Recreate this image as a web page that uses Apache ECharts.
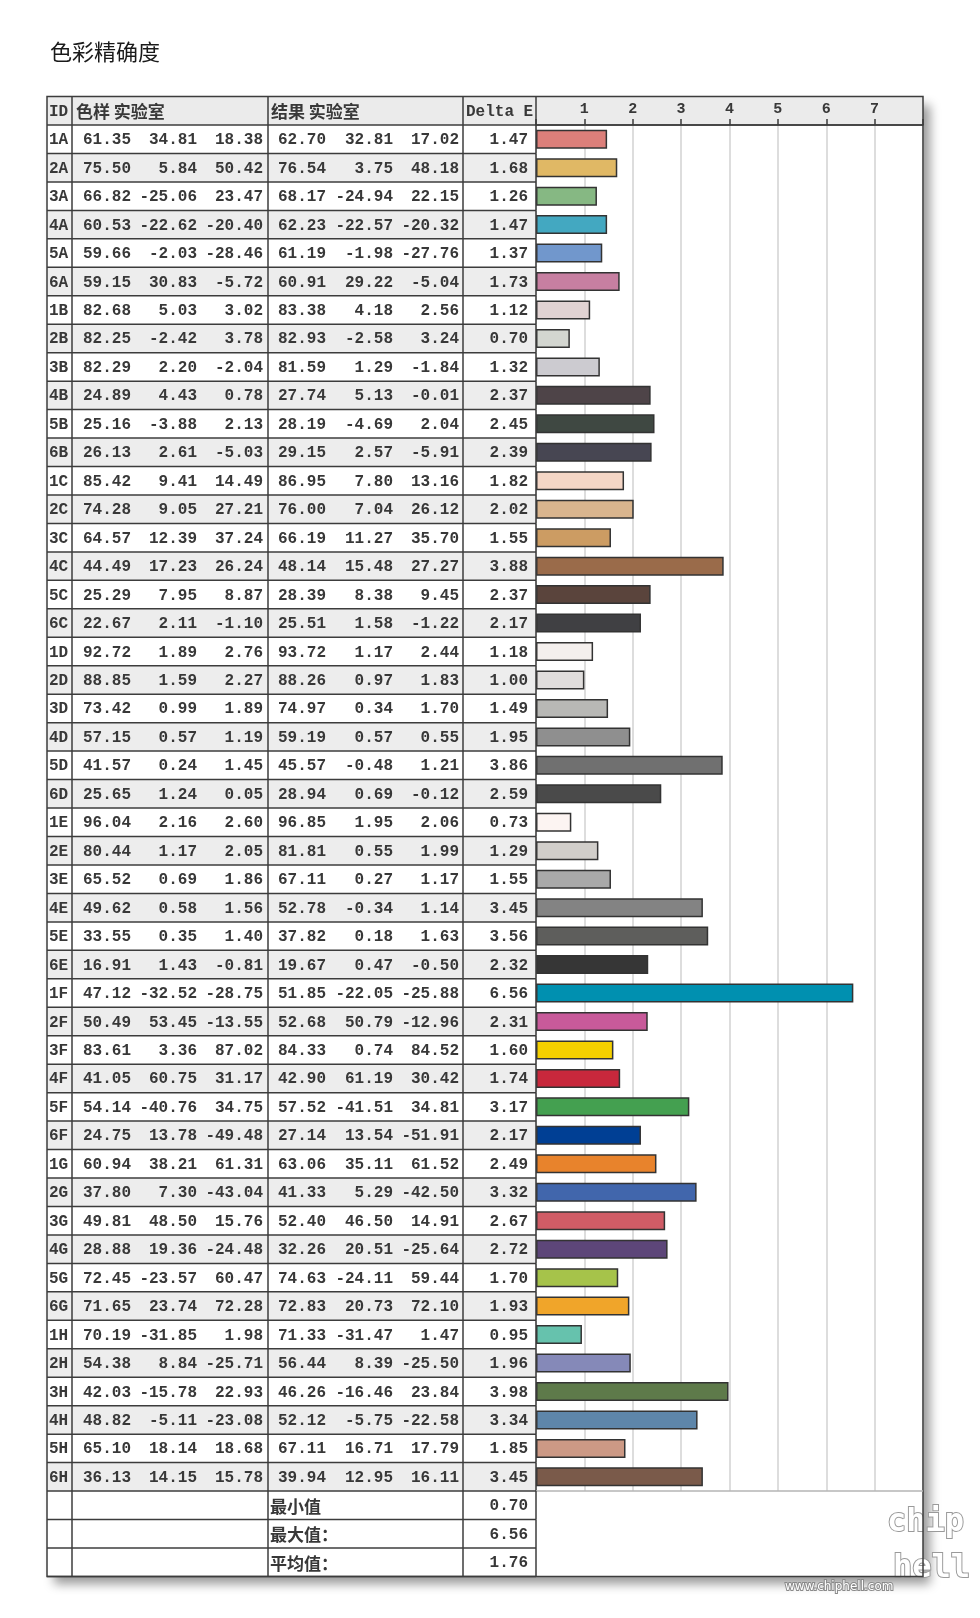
<!DOCTYPE html>
<html><head><meta charset="utf-8">
<script src="https://cdn.jsdelivr.net/npm/echarts/dist/echarts.min.js"></script>
<style>html,body{margin:0;padding:0;background:#fff}#c{width:980px;height:1618px}</style>
</head><body><div id="c"></div>
<script>
const ids = ['1A','2A','3A','4A','5A','6A','1B','2B','3B','4B','5B','6B','1C','2C','3C','4C','5C','6C','1D','2D','3D','4D','5D','6D','1E','2E','3E','4E','5E','6E','1F','2F','3F','4F','5F','6F','1G','2G','3G','4G','5G','6G','1H','2H','3H','4H','5H','6H'];
const refL = [61.35,75.50,66.82,60.53,59.66,59.15,82.68,82.25,82.29,24.89,25.16,26.13,85.42,74.28,64.57,44.49,25.29,22.67,92.72,88.85,73.42,57.15,41.57,25.65,96.04,80.44,65.52,49.62,33.55,16.91,47.12,50.49,83.61,41.05,54.14,24.75,60.94,37.80,49.81,28.88,72.45,71.65,70.19,54.38,42.03,48.82,65.10,36.13];
const refA = [34.81,5.84,-25.06,-22.62,-2.03,30.83,5.03,-2.42,2.20,4.43,-3.88,2.61,9.41,9.05,12.39,17.23,7.95,2.11,1.89,1.59,0.99,0.57,0.24,1.24,2.16,1.17,0.69,0.58,0.35,1.43,-32.52,53.45,3.36,60.75,-40.76,13.78,38.21,7.30,48.50,19.36,-23.57,23.74,-31.85,8.84,-15.78,-5.11,18.14,14.15];
const refB = [18.38,50.42,23.47,-20.40,-28.46,-5.72,3.02,3.78,-2.04,0.78,2.13,-5.03,14.49,27.21,37.24,26.24,8.87,-1.10,2.76,2.27,1.89,1.19,1.45,0.05,2.60,2.05,1.86,1.56,1.40,-0.81,-28.75,-13.55,87.02,31.17,34.75,-49.48,61.31,-43.04,15.76,-24.48,60.47,72.28,1.98,-25.71,22.93,-23.08,18.68,15.78];
const resL = [62.70,76.54,68.17,62.23,61.19,60.91,83.38,82.93,81.59,27.74,28.19,29.15,86.95,76.00,66.19,48.14,28.39,25.51,93.72,88.26,74.97,59.19,45.57,28.94,96.85,81.81,67.11,52.78,37.82,19.67,51.85,52.68,84.33,42.90,57.52,27.14,63.06,41.33,52.40,32.26,74.63,72.83,71.33,56.44,46.26,52.12,67.11,39.94];
const resA = [32.81,3.75,-24.94,-22.57,-1.98,29.22,4.18,-2.58,1.29,5.13,-4.69,2.57,7.80,7.04,11.27,15.48,8.38,1.58,1.17,0.97,0.34,0.57,-0.48,0.69,1.95,0.55,0.27,-0.34,0.18,0.47,-22.05,50.79,0.74,61.19,-41.51,13.54,35.11,5.29,46.50,20.51,-24.11,20.73,-31.47,8.39,-16.46,-5.75,16.71,12.95];
const resB = [17.02,48.18,22.15,-20.32,-27.76,-5.04,2.56,3.24,-1.84,-0.01,2.04,-5.91,13.16,26.12,35.70,27.27,9.45,-1.22,2.44,1.83,1.70,0.55,1.21,-0.12,2.06,1.99,1.17,1.14,1.63,-0.50,-25.88,-12.96,84.52,30.42,34.81,-51.91,61.52,-42.50,14.91,-25.64,59.44,72.10,1.47,-25.50,23.84,-22.58,17.79,16.11];
const deltaE = [1.47,1.68,1.26,1.47,1.37,1.73,1.12,0.70,1.32,2.37,2.45,2.39,1.82,2.02,1.55,3.88,2.37,2.17,1.18,1.00,1.49,1.95,3.86,2.59,0.73,1.29,1.55,3.45,3.56,2.32,6.56,2.31,1.60,1.74,3.17,2.17,2.49,3.32,2.67,2.72,1.70,1.93,0.95,1.96,3.98,3.34,1.85,3.45];
const patchColors = ['#dc7f7a','#e0b865','#86b883','#43a8c1','#7197cc','#c77fa1','#e0d2d2','#d3d6d0','#cccbd0','#4e4448','#3f4842','#474652','#f4d6c6','#d9b58e','#cc9c63','#9a6b4a','#5a443c','#404043','#f4efed','#e0dddc','#b8b8b5','#8f8f8f','#707070','#4a4a4a','#fcf4f2','#d1ceca','#a9a9a9','#838383','#5e5e5c','#363636','#0090b0','#c85a9a','#f4d000','#c8283c','#44a050','#003f94','#e8832c','#4166ac','#d05c66','#5d4679','#a6c34a','#f0a52a','#66c2ad','#8589b8','#5e7a4a','#5e86aa','#cc9985','#7a5a4a'];
const headerLabels = ['ID','色样 实验室','结果 实验室','Delta E'];
const summaryLabels = ['最小值','最大值：','平均值：'];
const summaryValues = [0.70, 6.56, 1.76];
const tickLabels = ['1','2','3','4','5','6','7'];

const NUMFONT = '"Liberation Mono", "DejaVu Sans Mono", monospace';
const CJKFONT = '"Noto Sans CJK SC", sans-serif';
const LINE = '#3c3c3c';
const TEXT = '#383838';
const tableRows = ['hdr'].concat(ids, ['min','max','avg']);
const nData = ids.length;
const fmt = v => v.toFixed(2);

// column geometry in table-axis units (1 unit = 1px)
const W = 876, TBLW = 489;
const dividers = [25, 221, 416, 489];
const numRight = [84, 150, 216, 279, 346, 412, 481];

function bgItem(params, api) {
  const i = api.value(1);
  const c = api.coord([0, i]);
  const h = api.size([0, 1])[1];
  const X = v => api.coord([v, i])[0];
  const top = c[1] - h / 2;
  if (i === 0) {
    return {type: 'rect', shape: {x: X(0), y: top, width: X(W) - X(0), height: h}, style: {fill: '#ebebeb'}};
  }
  if (i <= nData && i % 2 === 0) {
    return {type: 'rect', shape: {x: X(0), y: top, width: X(TBLW) - X(0), height: h}, style: {fill: '#ededed'}};
  }
  return null;
}

function fgItem(params, api) {
  const i = api.value(1);
  const c = api.coord([0, i]);
  const h = api.size([0, 1])[1];
  const X = v => api.coord([v, i])[0];
  const top = c[1] - h / 2, bot = c[1] + h / 2, cy = c[1];
  const ch = [];
  const txt = (s, x, align, font, size, weight) => ch.push({type: 'text', style: {text: s, x: x, y: cy + 1, align: align, verticalAlign: 'middle', fill: TEXT, fontFamily: font, fontSize: size, fontWeight: weight || 'normal'}});
  const hline = (x1, x2, y, col, w) => ch.push({type: 'line', shape: {x1: X(x1), y1: y, x2: X(x2), y2: y}, style: {stroke: col || LINE, lineWidth: w || 1.5}});
  dividers.forEach(d => ch.push({type: 'line', shape: {x1: X(d), y1: top, x2: X(d), y2: bot}, style: {stroke: LINE, lineWidth: 1.5}}));
  if (i === 0) {
    txt(headerLabels[0], X(2), 'left', NUMFONT, 16, 'bold');
    txt(headerLabels[1], X(29), 'left', CJKFONT, 17, 'bold');
    txt(headerLabels[2], X(224), 'left', CJKFONT, 17, 'bold');
    txt(headerLabels[3], X(419), 'left', NUMFONT, 16, 'bold');
    hline(0, W, bot);
    const b = api.coord([W, tableRows.length - 1]);
    ch.push({type: 'rect', shape: {x: X(0), y: top, width: X(W) - X(0), height: b[1] + h / 2 - top}, style: {fill: null, stroke: LINE, lineWidth: 1.5}});
  } else if (i <= nData) {
    const k = i - 1;
    txt(ids[k], X(2), 'left', NUMFONT, 16, 'bold');
    const vals = [refL[k], refA[k], refB[k], resL[k], resA[k], resB[k], deltaE[k]];
    vals.forEach((v, j) => txt(fmt(v), X(numRight[j]), 'right', NUMFONT, 16, 'bold'));
    hline(0, TBLW, bot);
    if (i === nData) hline(TBLW, W, bot, '#b4b4b4', 1.5);
  } else {
    const k = i - nData - 1;
    txt(summaryLabels[k], X(223), 'left', CJKFONT, 17, 'bold');
    txt(fmt(summaryValues[k]), X(numRight[6]), 'right', NUMFONT, 16, 'bold');
    hline(0, TBLW, bot);
  }
  return {type: 'group', children: ch};
}

const chart = echarts.init(document.getElementById('c'));
const ROWH = 28.46;
chart.setOption({
  animation: false,
  backgroundColor: '#fff',
  title: {text: '色彩精确度', left: 45, top: 36, textStyle: {fontFamily: CJKFONT, fontSize: 22, fontWeight: 'normal', color: '#1a1a1a'}},
  grid: [
    {left: 47, width: W, top: 125 - ROWH, height: ROWH * tableRows.length, show: true, backgroundColor: '#fff', borderWidth: 0,
     shadowBlur: 10, shadowColor: 'rgba(0,0,0,0.4)', shadowOffsetX: 7, shadowOffsetY: 8},
    {left: 536, width: 387, top: 125, height: ROWH * nData}
  ],
  xAxis: [
    {gridIndex: 0, type: 'value', min: 0, max: W, show: false},
    {gridIndex: 1, type: 'value', min: 0, max: 8, interval: 1, position: 'top', z: 4,
     axisLine: {show: true, lineStyle: {color: LINE, width: 1.5}},
     axisTick: {show: true, length: 6, lineStyle: {color: LINE, width: 1.5}},
     axisLabel: {margin: 8, color: TEXT, fontFamily: NUMFONT, fontSize: 15, fontWeight: 'bold',
       formatter: v => tickLabels.indexOf(String(v)) >= 0 ? String(v) : ''},
     splitLine: {show: true, lineStyle: {color: '#d2d2d2', width: 1.5}}}
  ],
  yAxis: [
    {gridIndex: 0, type: 'category', data: tableRows, inverse: true, show: false},
    {gridIndex: 1, type: 'category', data: ids, inverse: true, show: false}
  ],
  series: [
    {type: 'custom', xAxisIndex: 0, yAxisIndex: 0, z: 1, clip: false, renderItem: bgItem,
     data: tableRows.map((r, i) => [0, i]), silent: true},
    {type: 'bar', xAxisIndex: 1, yAxisIndex: 1, z: 5, barWidth: 19,
     data: deltaE.map((v, i) => ({value: v, itemStyle: {color: patchColors[i]}})),
     itemStyle: {borderColor: '#333', borderWidth: 1.5}},
    {type: 'custom', xAxisIndex: 0, yAxisIndex: 0, z: 6, clip: false, renderItem: fgItem,
     data: tableRows.map((r, i) => [0, i]), silent: true}
  ],
  graphic: [
    {type: 'text', left: 784, top: 1580, style: {text: 'www.chiphell.com', fontFamily: '"DejaVu Sans", sans-serif', fontSize: 12, fontWeight: 'normal', fill: '#fff', stroke: '#8a8a8a', lineWidth: 2}},
    {type: 'text', left: 886, top: 1506, style: {text: 'chip', fontFamily: '"DejaVu Sans Mono", monospace', fontSize: 32, fontWeight: 'bold', fill: '#fff', stroke: '#9a9a9a', lineWidth: 2}},
    {type: 'text', left: 892, top: 1552, style: {text: 'hell', fontFamily: '"DejaVu Sans Mono", monospace', fontSize: 32, fontWeight: 'bold', fill: '#fff', stroke: '#9a9a9a', lineWidth: 2}}
  ]
});
</script></body></html>
